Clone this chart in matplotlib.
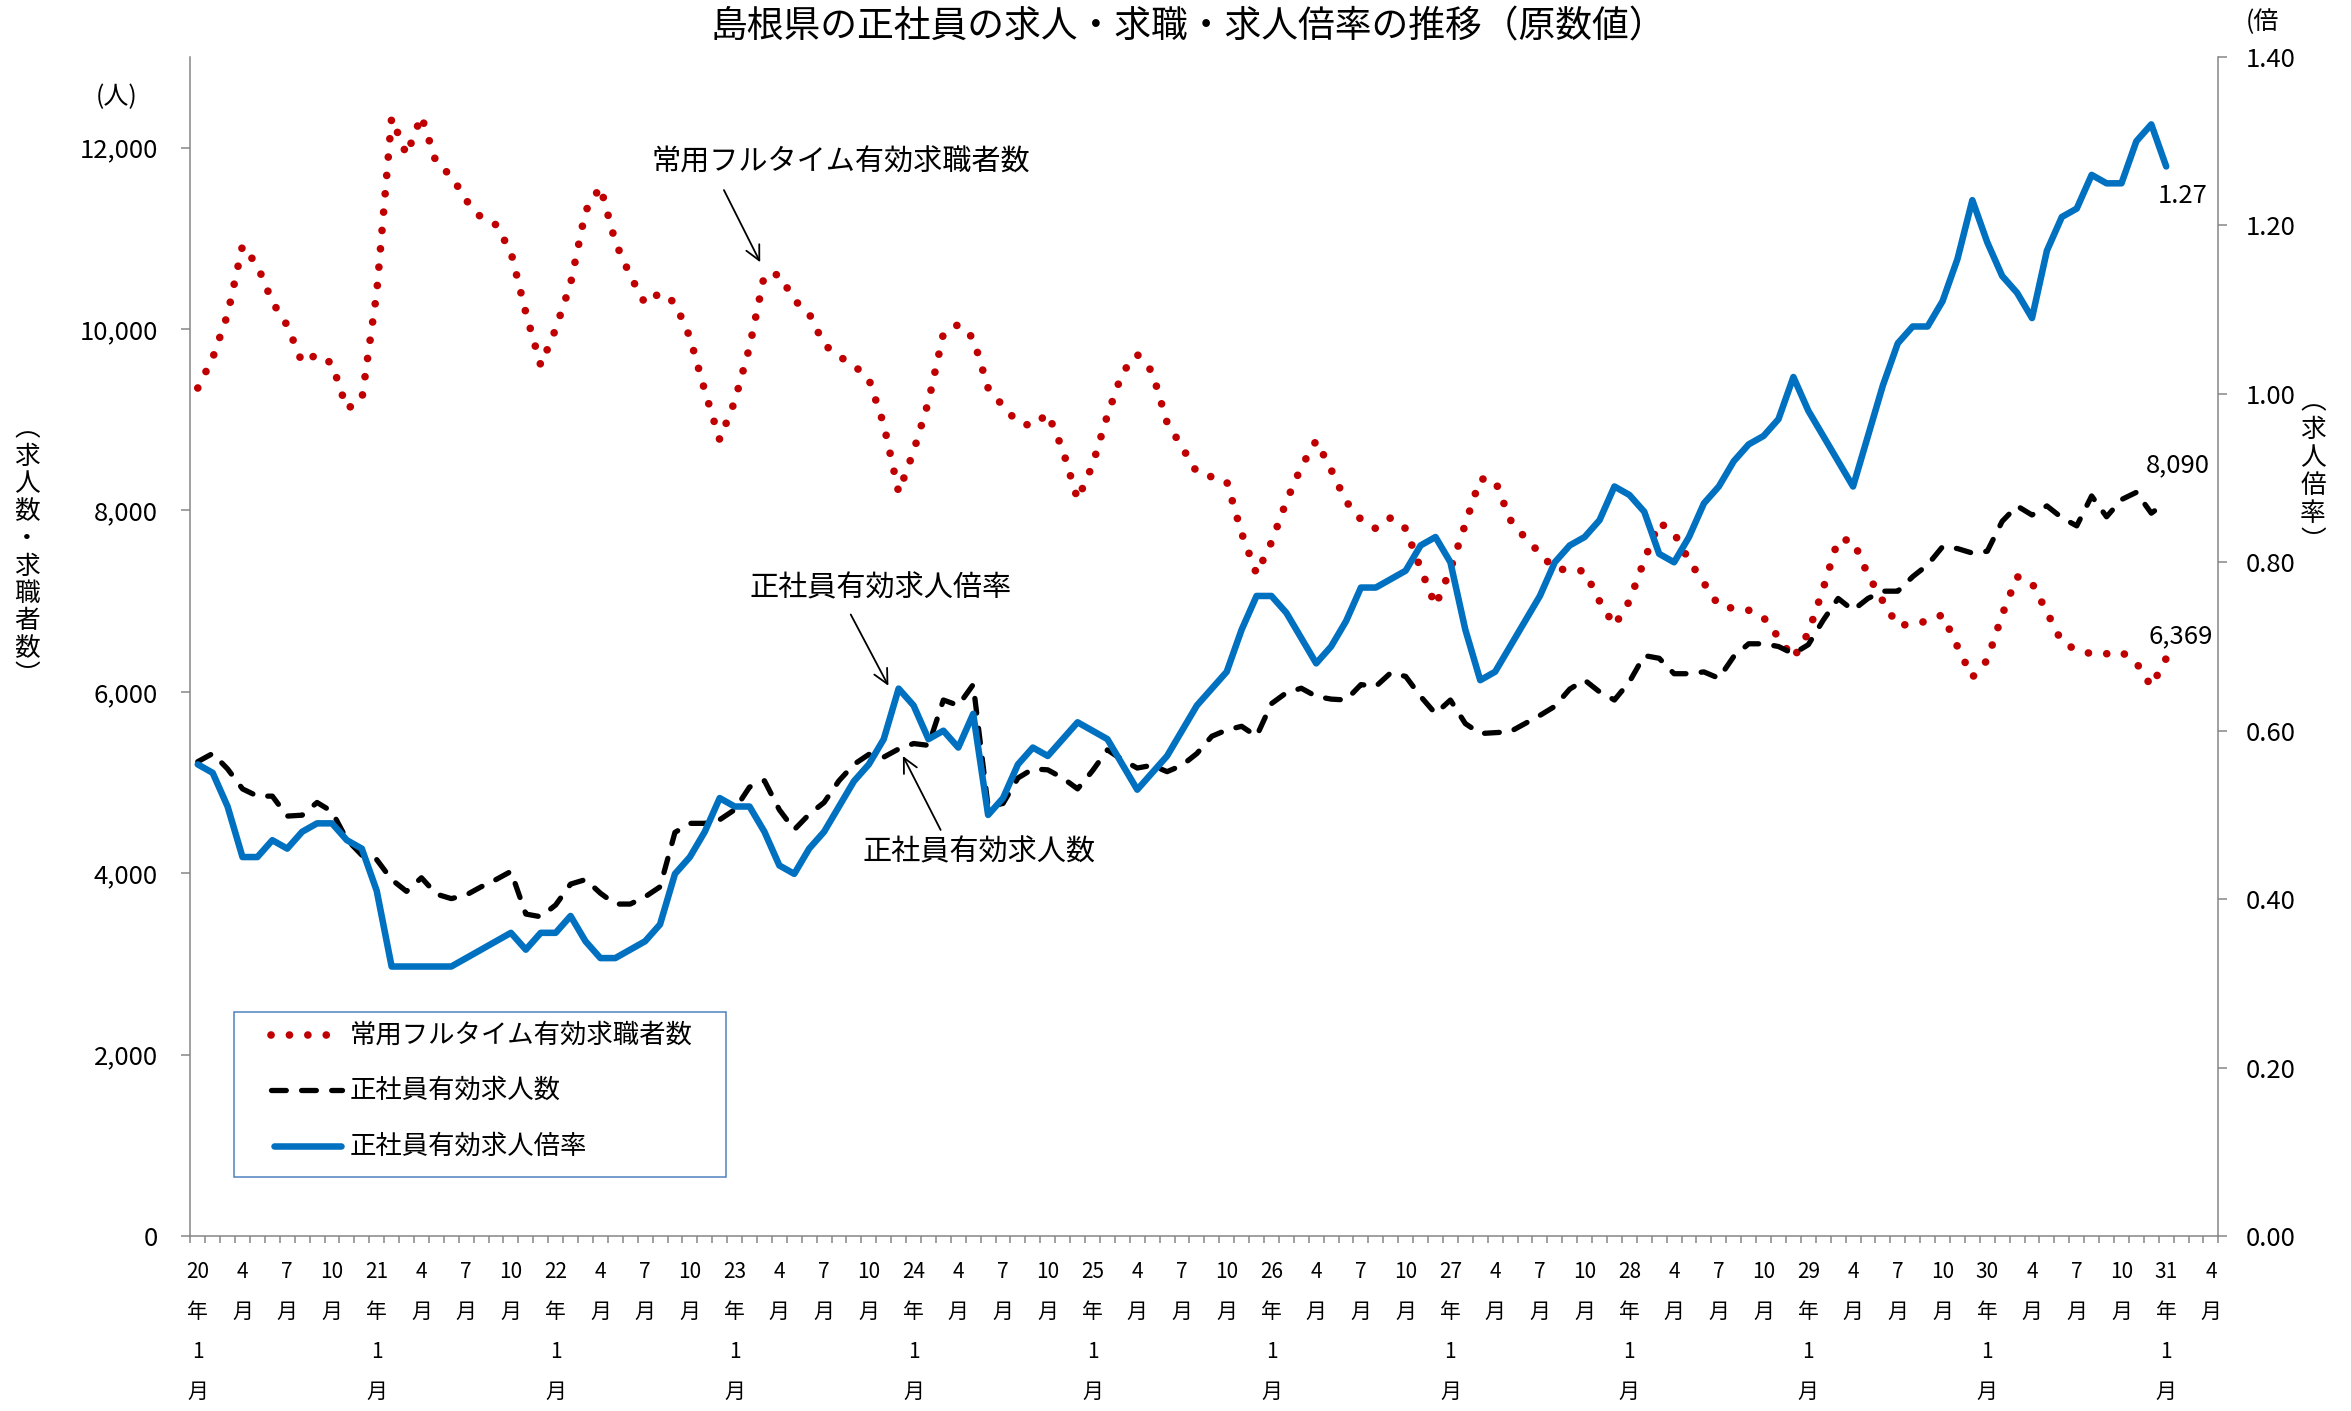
import numpy as np
import matplotlib
matplotlib.use('Agg')
import matplotlib.pyplot as plt
from matplotlib.lines import Line2D
from matplotlib.patches import Rectangle
from matplotlib.ticker import FuncFormatter, NullFormatter

plt.rcParams['font.family'] = ['Noto Sans CJK JP', 'DejaVu Sans']

# monthly, H20.1 - H31.1
jobseekers = [9350, 9680, 10160, 10920, 10700, 10300, 10040, 9630, 9720, 9620, 9120, 9220,
              10400, 12330, 11920, 12350, 11830, 11690, 11420, 11230, 11150, 10850, 10180, 9600,
              10000, 10500, 11300, 11570, 10960, 10590, 10280, 10400, 10290, 9910, 9320, 8780,
              9200, 9800, 10600, 10600, 10320, 10170, 9830, 9700, 9600, 9450, 8950, 8200,
              8650, 9200, 9950, 10050, 9900, 9350, 9150, 8970, 8930, 9070, 8670, 8120,
              8500, 9050, 9520, 9720, 9530, 8970, 8700, 8420, 8370, 8320, 7750, 7300,
              7650, 8100, 8480, 8770, 8450, 8100, 7900, 7800, 7920, 7800, 7360, 6950,
              7350, 7850, 8350, 8330, 7900, 7700, 7530, 7350, 7350, 7330, 7000, 6730,
              7000, 7450, 7870, 7750, 7450, 7200, 6950, 6920, 6900, 6820, 6600, 6370,
              6650, 7140, 7680, 7670, 7290, 7000, 6730, 6750, 6780, 6850, 6500, 6160,
              6350, 6850, 7270, 7200, 6880, 6550, 6460, 6420, 6420, 6440, 6320, 6060,
              6369]
openings = [5230, 5320, 5150, 4930, 4850, 4850, 4630, 4640, 4780, 4680, 4370, 4200,
            4150, 3930, 3800, 3950, 3770, 3720, 3760, 3850, 3930, 4020, 3550, 3520,
            3650, 3880, 3930, 3780, 3660, 3660, 3740, 3850, 4450, 4550, 4550, 4590,
            4700, 4950, 5020, 4700, 4480, 4650, 4780, 5020, 5200, 5310, 5280, 5370,
            5430, 5410, 5910, 5850, 6080, 4730, 4770, 5050, 5150, 5140, 5050, 4930,
            5130, 5360, 5250, 5160, 5190, 5120, 5190, 5320, 5510, 5580, 5620, 5510,
            5870, 5990, 6040, 5950, 5920, 5910, 6080, 6060, 6210, 6170, 5950, 5760,
            5910, 5650, 5540, 5550, 5560, 5650, 5740, 5840, 6030, 6130, 6000, 5910,
            6110, 6400, 6370, 6200, 6200, 6220, 6150, 6390, 6530, 6530, 6500, 6420,
            6520, 6790, 7030, 6900, 7030, 7110, 7110, 7270, 7400, 7600, 7580, 7530,
            7550, 7880, 8050, 7950, 8050, 7920, 7830, 8160, 7930, 8120, 8200, 7970,
            8090]
ratio = [0.56, 0.55, 0.51, 0.45, 0.45, 0.47, 0.46, 0.48, 0.49, 0.49, 0.47, 0.46,
         0.41, 0.32, 0.32, 0.32, 0.32, 0.32, 0.33, 0.34, 0.35, 0.36, 0.34, 0.36,
         0.36, 0.38, 0.35, 0.33, 0.33, 0.34, 0.35, 0.37, 0.43, 0.45, 0.48, 0.52,
         0.51, 0.51, 0.48, 0.44, 0.43, 0.46, 0.48, 0.51, 0.54, 0.56, 0.59, 0.65,
         0.63, 0.59, 0.60, 0.58, 0.62, 0.50, 0.52, 0.56, 0.58, 0.57, 0.59, 0.61,
         0.60, 0.59, 0.56, 0.53, 0.55, 0.57, 0.60, 0.63, 0.65, 0.67, 0.72, 0.76,
         0.76, 0.74, 0.71, 0.68, 0.70, 0.73, 0.77, 0.77, 0.78, 0.79, 0.82, 0.83,
         0.80, 0.72, 0.66, 0.67, 0.70, 0.73, 0.76, 0.80, 0.82, 0.83, 0.85, 0.89,
         0.88, 0.86, 0.81, 0.80, 0.83, 0.87, 0.89, 0.92, 0.94, 0.95, 0.97, 1.02,
         0.98, 0.95, 0.92, 0.89, 0.95, 1.01, 1.06, 1.08, 1.08, 1.11, 1.16, 1.23,
         1.18, 1.14, 1.12, 1.09, 1.17, 1.21, 1.22, 1.26, 1.25, 1.25, 1.30, 1.32,
         1.27]

names = ['常用フルタイム有効求職者数', '正社員有効求人数', '正社員有効求人倍率']
n_cat = 136  # axis runs to 31年4月
x = np.arange(len(ratio))


def month_label(i):
    y, m = 20 + i // 12, i % 12 + 1
    if m == 1:
        return f"{y}\n年\n1\n月"
    return f"{m}\n月"


W, H = 2351, 1411
fx = lambda px: px / W
fy = lambda py: 1 - py / H

red_style = dict(color='#C00000', lw=5.5, linestyle=(0, (0.01, 2.4)), dash_capstyle='round')
blk_style = dict(color='black', lw=3.8, linestyle=(0, (2.8, 2.9)), dash_capstyle='round')
blu_style = dict(color='#0070C0', lw=4.7, solid_capstyle='round')
grey = '#868686'

fig = plt.figure(figsize=(W / 100, H / 100), dpi=100)
L, R, T, B = 190.3, 2218.4, 57, 1236
ax = fig.add_axes([fx(L), fy(B), (R - L) / W, (B - T) / H])
ax2 = ax.twinx()

ax.plot(x, jobseekers, **red_style)
ax.plot(x, openings, **blk_style)
ax2.plot(x, ratio, **blu_style)

ax.set_xlim(-0.5, n_cat - 0.5)
ax.set_ylim(0, 13000)
ax2.set_ylim(0, 1.4)
ax.set_yticks(range(0, 12001, 2000))
ax.yaxis.set_major_formatter(FuncFormatter(lambda v, p: f"{int(v):,}"))
ax2.set_yticks(np.arange(0, 1.41, 0.2))
ax2.yaxis.set_major_formatter(FuncFormatter(lambda v, p: f"{v:.2f}"))

# ticks at every month boundary, labels every 3 months
ax.set_xticks(np.arange(-0.5, n_cat, 1))
ax.xaxis.set_major_formatter(NullFormatter())
centers = np.arange(0, n_cat, 3)
ax.set_xticks(centers, minor=True)
ax.set_xticklabels([month_label(i) for i in centers], minor=True, fontsize=15, linespacing=2.05)
ax.tick_params(axis='x', which='major', direction='out', length=5, width=1.1, color=grey)
ax.tick_params(axis='x', which='minor', length=0, pad=18)
ax.tick_params(axis='y', direction='out', length=6.5, width=1.1, color=grey, labelsize=18.5, pad=17)
ax2.tick_params(axis='y', direction='out', length=6.5, width=1.1, color=grey, labelsize=18.5, pad=13)

for s in ['top', 'right']:
    ax.spines[s].set_visible(False)
for s in ['top', 'left', 'bottom']:
    ax2.spines[s].set_visible(False)
for a, s in [(ax, 'left'), (ax, 'bottom'), (ax2, 'right')]:
    a.spines[s].set_color(grey)
    a.spines[s].set_linewidth(1.1)

# callouts
arrow = dict(arrowstyle='->', color='black', lw=1.3, mutation_scale=26)
ax.text(43.1, 11840, names[0], ha='center', va='center', fontsize=21)
ax.annotate('', xy=(37.8, 10710), xytext=(35.2, 11560), arrowprops=arrow)
ax.text(45.8, 7145, names[2], ha='center', va='center', fontsize=21)
ax.annotate('', xy=(46.4, 6040), xytext=(43.7, 6880), arrowprops=arrow)
ax.text(52.4, 4230, names[1], ha='center', va='center', fontsize=21)
ax.annotate('', xy=(47.2, 5320), xytext=(49.9, 4450), arrowprops=arrow)

# last values
ax2.annotate(f"{ratio[-1]:.2f}", xy=(x[-1], ratio[-1]), xytext=(16, -30),
             textcoords='offset pixels', ha='center', va='center', fontsize=18.5)
ax.annotate(f"{openings[-1]:,}", xy=(x[-1], openings[-1]), xytext=(12, 37),
            textcoords='offset pixels', ha='center', va='center', fontsize=18.5)
ax.annotate(f"{jobseekers[-1]:,}", xy=(x[-1], jobseekers[-1]), xytext=(14, 22),
            textcoords='offset pixels', ha='center', va='center', fontsize=18.5)

# titles and unit labels
fig.text(fx(1188), fy(27), '島根県の正社員の求人・求職・求人倍率の推移（原数値）',
         ha='center', va='center', fontsize=26.5)
fig.text(fx(117), fy(97), '(人)', ha='center', va='center', fontsize=18)
fig.text(fx(2262), fy(22), '(倍', ha='center', va='center', fontsize=18)
fig.text(fx(27), fy(553), '\n'.join('︵求人数・求職者数︶'), ha='center', va='center',
         fontsize=18.5, linespacing=1.07)
fig.text(fx(2313), fy(472), '\n'.join('︵求人倍率︶'), ha='center', va='center',
         fontsize=18.5, linespacing=1.1)

# legend box
fig.add_artist(Rectangle((fx(234), fy(1177)), (726 - 234) / W, (1177 - 1012) / H,
                         transform=fig.transFigure, fill=False, edgecolor='#4F81BD', lw=1.1))
for ypx, name, style, x0, x1 in [(1035, names[0], red_style, 271, 334),
                                 (1090, names[1], blk_style, 271, 342),
                                 (1146, names[2], blu_style, 274, 341)]:
    fig.add_artist(Line2D([fx(x0), fx(x1)], [fy(ypx)] * 2, transform=fig.transFigure, **style))
    fig.text(fx(350), fy(ypx), name, va='center', fontsize=19)

fig.savefig('out.png', dpi=100)
